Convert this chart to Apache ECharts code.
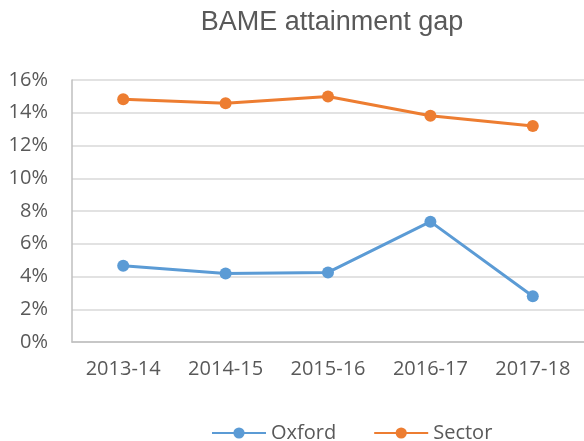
<!DOCTYPE html>
<html>
<head>
<meta charset="utf-8">
<script src="https://cdn.jsdelivr.net/npm/echarts@6/dist/echarts.min.js"></script>
<style>
  html, body { margin: 0; padding: 0; background: #fff; }
  #chart { width: 584px; height: 441px; }
</style>
</head>
<body>
<div id="chart"></div>
<script>
const years = ['2013-14', '2014-15', '2015-16', '2016-17', '2017-18']
const oxford = [0.0466, 0.0419, 0.0425, 0.0735, 0.0279]
const sector = [0.1482, 0.1458, 0.1499, 0.1382, 0.1319]
const yTicks = { min: 0, max: 0.16, interval: 0.02 }

const labelColor = '#595959'
const labelFont = 'Open Sans'

const chart = echarts.init(document.getElementById('chart'))
chart.setOption({
  title: {
    text: 'BAME attainment gap',
    left: 327, top: 4, textAlign: 'center',
    textStyle: { fontFamily: 'Liberation Sans', fontSize: 27, fontWeight: 'normal', color: labelColor }
  },
  legend: {
    data: ['Oxford', 'Sector'],
    left: 206, top: 418,
    itemWidth: 54, itemHeight: 14, itemGap: 37,
    textStyle: { fontFamily: labelFont, fontSize: 20, color: labelColor }
  },
  grid: { left: 72, right: 0, top: 80, bottom: 99 },
  xAxis: {
    type: 'category', data: years, boundaryGap: true,
    axisTick: { show: false },
    axisLine: { lineStyle: { color: '#bfbfbf', width: 1.5 } },
    axisLabel: { fontFamily: labelFont, fontSize: 20, color: labelColor, margin: 17 }
  },
  yAxis: {
    type: 'value', ...yTicks,
    axisLine: { show: true, lineStyle: { color: '#bfbfbf', width: 1.5 } },
    axisTick: { show: false },
    splitLine: { lineStyle: { color: '#d9d9d9', width: 1.5 } },
    axisLabel: {
      fontFamily: labelFont, fontSize: 20, color: labelColor, margin: 24,
      formatter: v => Math.round(v * 100) + '%'
    }
  },
  series: [
    {
      name: 'Oxford', type: 'line', data: oxford,
      symbol: 'circle', symbolSize: 12,
      lineStyle: { color: '#5b9bd5', width: 3 },
      itemStyle: { color: '#5b9bd5' }
    },
    {
      name: 'Sector', type: 'line', data: sector,
      symbol: 'circle', symbolSize: 12,
      lineStyle: { color: '#ed7d31', width: 3 },
      itemStyle: { color: '#ed7d31' }
    }
  ]
})
</script>
</body>
</html>
